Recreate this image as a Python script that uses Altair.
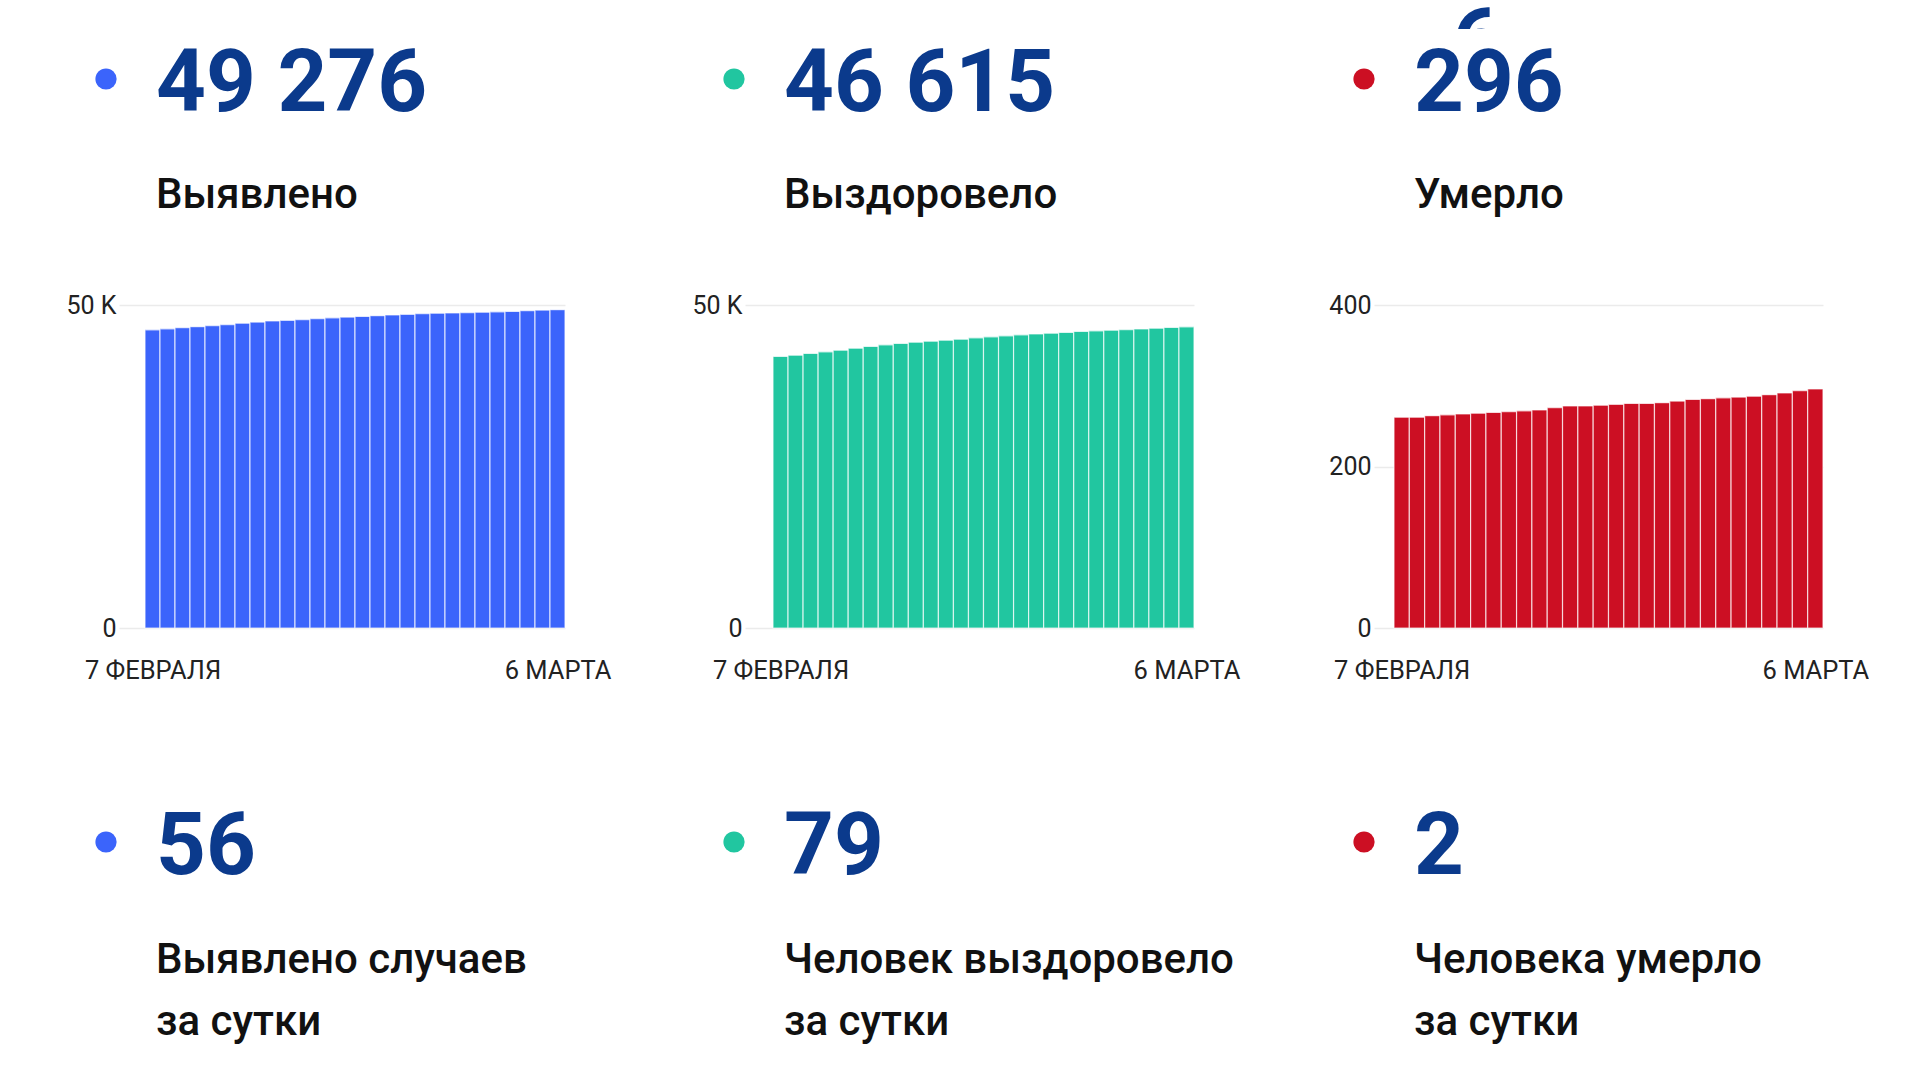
import altair as alt
import pandas as pd

# ---------------- data ----------------
dates = list(pd.date_range("2022-02-07", "2022-03-06").strftime("%Y-%m-%d"))
x_tick_labels = ["7 ФЕВРАЛЯ", "6 МАРТА"]

titles = ["Выявлено", "Выздоровело", "Умерло"]
daily_titles = ["Выявлено случаев\nза сутки", "Человек выздоровело\nза сутки", "Человека умерло\nза сутки"]
totals = [49276, 46615, 296]
daily = [56, 79, 2]

detected = [46150, 46315, 46480, 46645, 46810, 46975, 47190, 47355, 47520, 47630,
            47740, 47905, 48015, 48125, 48235, 48345, 48450, 48560, 48670, 48725,
            48780, 48835, 48890, 48945, 49000, 49110, 49220, 49276]
recovered = [42030, 42240, 42495, 42750, 43010, 43320, 43575, 43835, 44040, 44245,
             44400, 44555, 44710, 44915, 45070, 45225, 45380, 45530, 45635, 45740,
             45895, 46000, 46100, 46200, 46300, 46400, 46536, 46615]
deaths = [261, 261, 263, 264, 265, 266, 267, 268, 269, 270,
          273, 275, 275, 276, 277, 278, 278, 279, 281, 283,
          284, 285, 286, 287, 289, 291, 294, 296]

y_domains = [50000, 50000, 400]
y_ticks = [[0, 50000], [0, 50000], [0, 200, 400]]

# ---------------- style ----------------
colors = ["#3b64fb", "#21c6a0", "#cc0f23"]
NAVY = "#0b3a8c"
TEXT = "#111111"
AXIS = "#222222"
FONT = "Roboto"

# column geometry (canvas px): grid start, bar start, bar end
geom = [(118, 144, 564), (744, 772, 1193), (1373, 1393, 1822)]
dot_canvas_x = [105, 733, 1363]
COL_SPACING = 180
H_TOP, H_CHART, H_BOTTOM = 304, 323, 453
NUM_SIZE = 87
LABEL_SIZE = 42
TEXT_DX = 50


def fmt(v):
    return f"{v:,}".replace(",", " ")


def header_cell(ci, width):
    gs = geom[ci][0]
    dx = dot_canvas_x[ci] - gs
    df = pd.DataFrame({"num": [fmt(totals[ci])], "label": [titles[ci]]})
    base = alt.Chart(df)
    layers = []
    if ci == 0:
        # white marker so the canvas starts at x=0
        layers.append(base.mark_rule(color="white", strokeWidth=1).encode(
            x=alt.value(-gs), y=alt.value(0), y2=alt.value(2)))
    if ci == 2:
        frag = pd.DataFrame({"t": ["6"]})
        layers.append(alt.Chart(frag).mark_text(
            align="left", baseline="alphabetic", font=FONT, fontSize=NUM_SIZE,
            fontWeight="bold", color=NAVY).encode(
            x=alt.value(78), y=alt.value(69), text="t:N"))
        layers.append(alt.Chart(frag).mark_rect(color="white").encode(
            x=alt.value(60), x2=alt.value(130), y=alt.value(28), y2=alt.value(80)))
    layers.append(base.mark_circle(size=450, opacity=1, color=colors[ci]).encode(
        x=alt.value(dx), y=alt.value(78)))
    layers.append(base.mark_text(align="left", baseline="alphabetic", font=FONT,
                                 fontSize=NUM_SIZE, fontWeight="bold", color=NAVY).encode(
        x=alt.value(dx + TEXT_DX), y=alt.value(110), text="num:N"))
    layers.append(base.mark_text(align="left", baseline="alphabetic", font=FONT,
                                 fontSize=LABEL_SIZE, fontWeight=500, color=TEXT).encode(
        x=alt.value(dx + TEXT_DX), y=alt.value(207), text="label:N"))
    return alt.layer(*layers).properties(width=width, height=H_TOP)


def bottom_cell(ci, width):
    gs = geom[ci][0]
    dx = dot_canvas_x[ci] - gs
    df = pd.DataFrame({"num": [fmt(daily[ci])], "label": [daily_titles[ci]]})
    base = alt.Chart(df)
    dot = base.mark_circle(size=450, opacity=1, color=colors[ci]).encode(
        x=alt.value(dx), y=alt.value(214))
    num = base.mark_text(align="left", baseline="alphabetic", font=FONT,
                         fontSize=NUM_SIZE, fontWeight="bold", color=NAVY).encode(
        x=alt.value(dx + TEXT_DX), y=alt.value(246), text="num:N")
    lab = base.mark_text(align="left", baseline="alphabetic", font=FONT,
                         fontSize=LABEL_SIZE, fontWeight=500, color=TEXT,
                         lineBreak="\n", lineHeight=62).encode(
        x=alt.value(dx + TEXT_DX), y=alt.value(345), text="label:N")
    return alt.layer(dot, num, lab).properties(width=width, height=H_BOTTOM)


def bar_cell(ci, values, width):
    gs, bs, be = geom[ci]
    n = len(values)
    bw = (be - bs) / n
    left = -(bs - gs) / bw
    df = pd.DataFrame({"date": dates, "i": list(range(n)),
                       "i1": [k + 1 for k in range(n)], "value": values})
    label_expr = (f"datum.value < {n / 2} ? '{x_tick_labels[0]}' : '{x_tick_labels[1]}'")
    y_expr = ("datum.value >= 1000 ? format(datum.value / 1000, 'd') + ' K' "
              ": format(datum.value, 'd')")
    return alt.Chart(df).mark_bar(
        color=colors[ci], stroke="white", strokeWidth=1.2, strokeOpacity=0.7
    ).encode(
        x=alt.X("i:Q", scale=alt.Scale(domain=[left, n], nice=False, zero=False),
                axis=alt.Axis(values=[0.5, n - 0.5], labelExpr=label_expr, title=None,
                              grid=False, domain=False, ticks=False, labelFlush=False,
                              labelOverlap=False, labelFont=FONT, labelFontSize=25.5,
                              labelColor=AXIS, labelPadding=30)),
        x2="i1:Q",
        y=alt.Y("value:Q", scale=alt.Scale(domain=[0, y_domains[ci]], nice=False),
                axis=alt.Axis(values=y_ticks[ci], labelExpr=y_expr, title=None,
                              grid=True, gridColor="#ebebeb", gridWidth=1.5,
                              domain=False, ticks=False, labelFont=FONT,
                              labelFontSize=25, labelColor=AXIS, labelPadding=3)),
        y2=alt.datum(0),
        tooltip=["date:N", "value:Q"],
    ).properties(width=width, height=H_CHART)


widths = [be - gs for gs, bs, be in geom]
series = [detected, recovered, deaths]

cells = ([header_cell(c, widths[c]) for c in range(3)]
         + [bar_cell(c, series[c], widths[c]) for c in range(3)]
         + [bottom_cell(c, widths[c]) for c in range(3)])

chart = alt.concat(
    *cells, columns=3, spacing={"row": 0, "column": COL_SPACING}, bounds="flush"
).properties(padding=0, background="white").configure_view(strokeWidth=0)

chart.save("out.html", embed_options={"renderer": "svg", "actions": False})
